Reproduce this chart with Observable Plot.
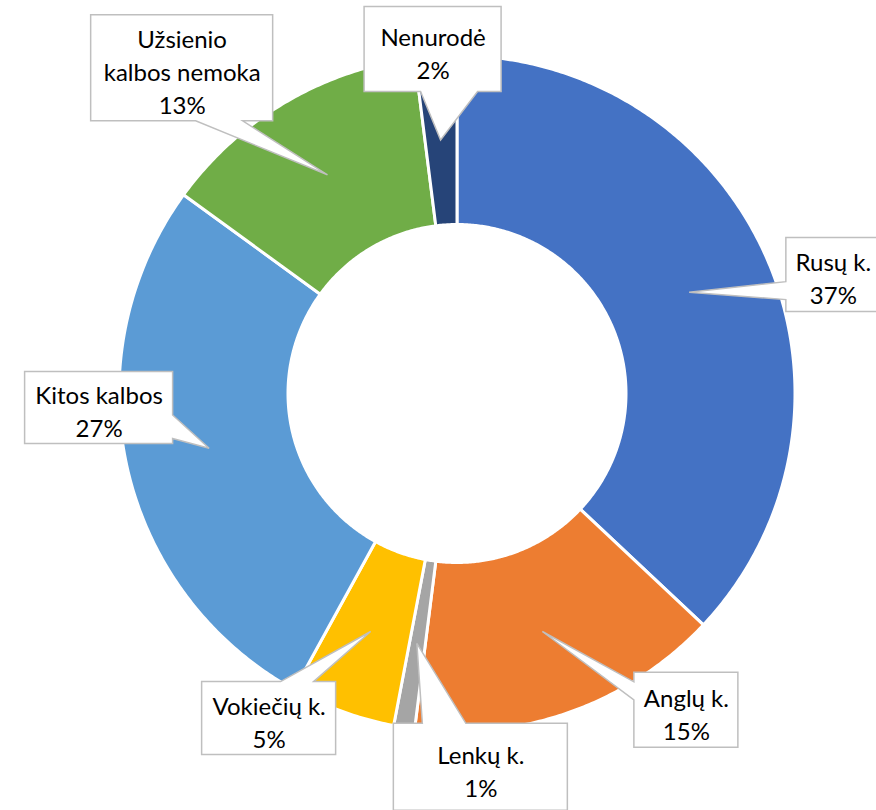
<!DOCTYPE html>
<html>
<head>
<meta charset="utf-8">
<script src="https://cdn.jsdelivr.net/npm/d3@7"></script>
<script src="https://cdn.jsdelivr.net/npm/@observablehq/plot@0.6"></script>
<style>
  html, body { margin: 0; padding: 0; background: #fff; overflow: hidden; }
  #chart svg { display: block; overflow: visible; }
</style>
</head>
<body>
<div id="chart"></div>
<script>
// ---- data ----
const categories = ["Rusų k.", "Anglų k.", "Lenkų k.", "Vokiečių k.", "Kitos kalbos", "Užsienio kalbos nemoka", "Nenurodė"];
const shares = [37, 15, 1, 5, 27, 13, 2];
const labelNames = ["Rusų k.", "Anglų k.", "Lenkų k.", "Vokiečių k.", "Kitos kalbos", "Užsienio\nkalbos nemoka", "Nenurodė"];
const sliceColors = ["#4472C4", "#ED7D31", "#A5A5A5", "#FFC000", "#5B9BD5", "#70AD47", "#264478"];

// ---- layout (not data) ----
const OUTER = 30;   // colatitude (deg) used for the outer radius in the polar projection
const HOLE = 0.5;   // doughnut hole size, fraction of outer radius
// callout box: offset of box centre from the tail tip (px), box size, side of the tail and its base span
const calloutLayout = [
  {dx: 143.7, dy: -17.7, w: 94,  h: 74,  side: "left",   a: 7,   b: 25},
  {dx: 143.5, dy: 78.3,  w: 104, h: 75,  side: "left",   a: -28, b: -10},
  {dx: 63.5,  dy: 123.4, w: 174, h: 87,  side: "top",    a: -58, b: -14.5},
  {dx: -102,  dy: 86.6,  w: 134, h: 73,  side: "top",    a: 12,  b: 45},
  {dx: -110.5,dy: -40.8, w: 148, h: 72,  side: "right",  a: 7.5, b: 31},
  {dx: -145.8,dy: -107,  w: 182, h: 106, side: "bottom", a: 14,  b: 61},
  {dx: -8,    dy: -91,   w: 137, h: 85,  side: "bottom", a: -12, b: 45}
];

const total = d3.sum(shares);
let cum = 0;
const rows = categories.map((c, i) => {
  const t0 = cum / total * 360;
  cum += shares[i];
  const t1 = cum / total * 360;
  const mid = (t0 + t1) / 2;
  return {
    category: c, value: shares[i], t0, t1,
    label: labelNames[i] + "\n" + shares[i] + "%",
    tipLon: 180 - mid,
    tipLat: 90 - OUTER * (HOLE + 1) / 2,
    layout: calloutLayout[i]
  };
});

const latOf = r => 90 - OUTER * r;
function sliceFeature(d) {
  const lonA = 180 - d.t1, lonB = 180 - d.t0;
  const n = Math.max(2, Math.ceil((lonB - lonA) / 0.5));
  const ring = [];
  for (let k = 0; k <= n; k++) ring.push([lonA + (lonB - lonA) * k / n, latOf(HOLE)]);
  for (let k = n; k >= 0; k--) ring.push([lonA + (lonB - lonA) * k / n, latOf(1)]);
  ring.push(ring[0]);
  return {type: "Feature", properties: d, geometry: {type: "Polygon", coordinates: [ring]}};
}
const slices = rows.map(sliceFeature);

function calloutPath(tx, ty, L) {
  const cx = tx + L.dx, cy = ty + L.dy;
  const x0 = cx - L.w / 2, x1 = cx + L.w / 2, y0 = cy - L.h / 2, y1 = cy + L.h / 2;
  const p = d3.path();
  p.moveTo(x0, y0);
  if (L.side === "top") { p.lineTo(cx + L.a, y0); p.lineTo(tx, ty); p.lineTo(cx + L.b, y0); }
  p.lineTo(x1, y0);
  if (L.side === "right") { p.lineTo(x1, cy + L.a); p.lineTo(tx, ty); p.lineTo(x1, cy + L.b); }
  p.lineTo(x1, y1);
  if (L.side === "bottom") { p.lineTo(cx + L.b, y1); p.lineTo(tx, ty); p.lineTo(cx + L.a, y1); }
  p.lineTo(x0, y1);
  if (L.side === "left") { p.lineTo(x0, cy + L.b); p.lineTo(tx, ty); p.lineTo(x0, cy + L.a); }
  p.closePath();
  return p.toString();
}

const callouts = Plot.dot(rows, {
  x: "tipLon", y: "tipLat",
  render(index, scales, values) {
    const g = d3.create("svg:g");
    for (const i of index) {
      g.append("path")
        .attr("d", calloutPath(values.x[i], values.y[i], rows[i].layout))
        .attr("fill", "#fff")
        .attr("stroke", "#BFBFBF")
        .attr("stroke-width", 1.5)
        .attr("stroke-linejoin", "miter");
    }
    return g.node();
  }
});

const texts = rows.map(d => Plot.text([d], {
  x: "tipLon", y: "tipLat", text: "label",
  dx: d.layout.dx, dy: d.layout.dy + 2.2,
  fontSize: 24, lineHeight: 1.375,
  fontFamily: "Lato", fill: "#000",
  textAnchor: "middle", lineAnchor: "middle"
}));

const chart = Plot.plot({
  width: 876, height: 810,
  marginLeft: 118.5, marginRight: 81.5, marginTop: 55, marginBottom: 79,
  projection: {
    type: "azimuthal-equidistant",
    rotate: [0, -90],
    domain: d3.geoCircle().center([0, 90]).radius(OUTER).precision(1)(),
    inset: 0
  },
  color: {domain: categories, range: sliceColors},
  style: {fontFamily: "Lato", background: "#fff"},
  marks: [
    Plot.geo(slices, {fill: d => d.properties.category, stroke: "#fff", strokeWidth: 3}),
    callouts,
    ...texts
  ]
});
document.getElementById("chart").append(chart);
</script>
</body>
</html>
